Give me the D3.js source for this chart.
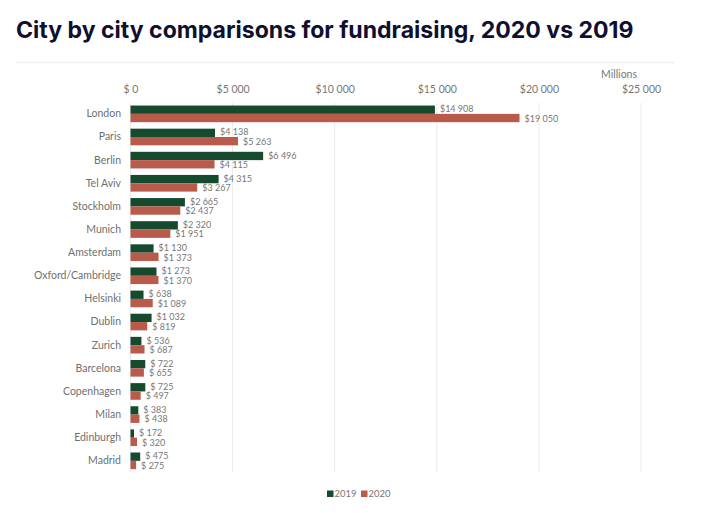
<!DOCTYPE html>
<html>
<head>
<meta charset="utf-8">
<script src="https://cdn.jsdelivr.net/npm/d3@7/dist/d3.min.js"></script>
<style>
  html, body { margin: 0; padding: 0; background: #fff; }
  svg { display: block; }
</style>
</head>
<body>
<svg id="chart" width="717" height="513"></svg>
<script>
const cities = ["London","Paris","Berlin","Tel Aviv","Stockholm","Munich","Amsterdam","Oxford/Cambridge","Helsinki","Dublin","Zurich","Barcelona","Copenhagen","Milan","Edinburgh","Madrid"];
const values2019 = [14908,4138,6496,4315,2665,2320,1130,1273,638,1032,536,722,725,383,172,475];
const values2020 = [19050,5263,4115,3267,2437,1951,1373,1370,1089,819,687,655,497,438,320,275];
const seriesNames = ["2019","2020"];
const seriesColors = ["#164a2f","#b85b4b"];
const tickValues = [0,5000,10000,15000,20000,25000];
const titleText = "City by city comparisons for fundraising, 2020 vs 2019";
const unitText = "Millions";

const svg = d3.select("#chart");
const labelFont = "Lato, 'Open Sans', sans-serif";

const fmt = d3.formatLocale({decimal: ".", thousands: "\u2009", grouping: [3], currency: ["$", ""]}).format(",");
const money = v => v >= 1000 ? "$" + fmt(v).replace("\u2009", " ") : "$ " + v;

// Title
const title = svg.append("text")
  .attr("x", 16).attr("y", 38)
  .attr("font-family", "Inter, Roboto, sans-serif")
  .attr("font-weight", 700)
  .attr("font-size", 22)
  .attr("fill", "#0f1030")
  .text(titleText);
const tw = title.node().getComputedTextLength();
title.attr("font-size", 22 * 618 / tw);

// top separator
svg.append("line").attr("x1", 16).attr("x2", 675).attr("y1", 62.5).attr("y2", 62.5)
  .attr("stroke", "#f0f0f0").attr("stroke-width", 1.5);

const x = d3.scaleLinear().domain([0, 25000]).range([130.5, 641]);
const y = d3.scaleBand().domain(cities).range([102.3, 472.4]).paddingInner(0.28).paddingOuter(0.14);
const ys = d3.scaleBand().domain(seriesNames).range([0, y.bandwidth()]);

// grid
svg.append("g").selectAll("line").data(tickValues).join("line")
  .attr("x1", d => x(d)).attr("x2", d => x(d))
  .attr("y1", 103).attr("y2", 472)
  .attr("stroke", "#ebebeb").attr("stroke-width", 1);

// top axis
const axis = svg.append("g").attr("transform", "translate(0,93)")
  .call(d3.axisTop(x).tickValues(tickValues).tickSize(0).tickPadding(0).tickFormat(money));
axis.select(".domain").remove();
axis.selectAll("text").attr("font-family", labelFont).attr("font-size", 10.5).attr("fill", "#777");

svg.append("text").attr("x", 637).attr("y", 78).attr("text-anchor", "end")
  .attr("font-family", labelFont).attr("font-size", 10.5).attr("fill", "#777").text(unitText);

// category axis
const yAxis = svg.append("g").attr("transform", "translate(121,0)")
  .call(d3.axisLeft(y).tickSize(0).tickPadding(0));
yAxis.select(".domain").remove();
yAxis.selectAll("text").attr("font-family", labelFont).attr("font-size", 10.5).attr("fill", "#6f6f6f");

// bars
const rows = cities.map((c, i) => ({city: c, vals: [values2019[i], values2020[i]]}));
const groups = svg.append("g").selectAll("g").data(rows).join("g")
  .attr("transform", d => `translate(0,${y(d.city)})`);
groups.selectAll("rect").data(d => d.vals.map((v, j) => ({v, s: seriesNames[j], j}))).join("rect")
  .attr("x", x(0)).attr("y", d => ys(d.s))
  .attr("width", d => x(d.v) - x(0)).attr("height", ys.bandwidth())
  .attr("fill", d => seriesColors[d.j]);
groups.selectAll("text").data(d => d.vals.map((v, j) => ({v, s: seriesNames[j], j}))).join("text")
  .attr("x", d => x(d.v) + 5).attr("y", d => ys(d.s) + ys.bandwidth() / 2 + (d.j === 0 ? -0.6 : 0.6))
  .attr("dy", "0.35em")
  .attr("font-family", labelFont).attr("font-size", 9).attr("fill", "#777")
  .text(d => money(d.v));

// legend
const leg = svg.append("g").attr("transform", "translate(327,494)");
const legX = [0, 34];
seriesNames.forEach((s, i) => {
  leg.append("rect").attr("x", legX[i]).attr("y", -3.5).attr("width", 6.5).attr("height", 6.5).attr("fill", seriesColors[i]);
  leg.append("text").attr("x", legX[i] + 7.5).attr("y", 0).attr("dy", "0.35em")
    .attr("font-family", labelFont).attr("font-size", 9.5).attr("fill", "#777").text(s);
});
</script>
</body>
</html>
